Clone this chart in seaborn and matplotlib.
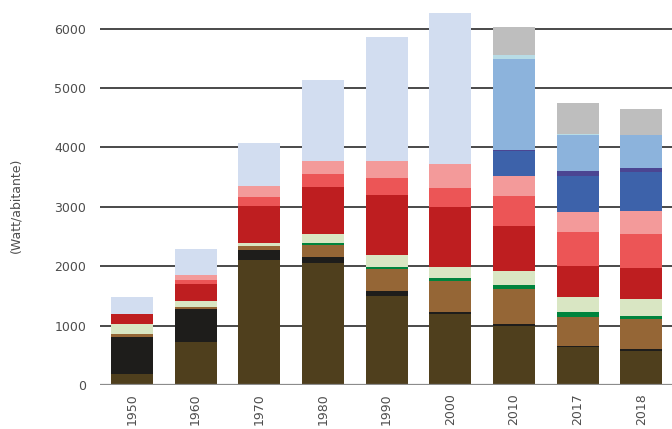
#!/usr/bin/env python3
"""Stacked bars: energy use per inhabitant (Watt/abitante), 1950-2018."""

import matplotlib
import numpy as np
import pandas as pd
import seaborn as sns

matplotlib.use("Agg")
import matplotlib.pyplot as plt

YEARS = ["1950", "1960", "1970", "1980", "1990", "2000", "2010", "2017", "2018"]

# segment heights, bottom to top
brown = [185, 724, 2104, 2054, 1498, 1195, 993, 640, 572]
black = [623, 555, 169, 101, 84, 34, 34, 17, 34]
mid_brown = [51, 34, 67, 202, 371, 522, 589, 488, 505]
green = [0, 0, 0, 34, 34, 50, 68, 84, 51]
pale_green = [168, 101, 51, 151, 202, 186, 235, 252, 286]
dark_red = [168, 286, 622, 791, 1010, 1010, 758, 522, 522]
red = [0, 68, 152, 219, 286, 319, 505, 573, 572]
pink = [0, 84, 185, 219, 286, 405, 337, 336, 387]
dark_blue = [0, 0, 0, 0, 0, 0, 420, 607, 657]
purple = [0, 0, 0, 0, 0, 0, 17, 84, 67]
light_blue = [0, 0, 0, 0, 0, 0, 1532, 606, 556]
cyan = [0, 0, 0, 0, 0, 0, 68, 17, 0]
grey = [0, 0, 0, 0, 0, 0, 471, 521, 437]
pale_blue = [286, 438, 724, 1364, 2088, 2542, 0, 0, 0]

SERIES = [
    (brown, "#4f3f1d"),
    (black, "#1e1d1b"),
    (mid_brown, "#956636"),
    (green, "#00843d"),
    (pale_green, "#d9e6c3"),
    (dark_red, "#be1e20"),
    (red, "#ec5556"),
    (pink, "#f39a9a"),
    (dark_blue, "#3d62aa"),
    (purple, "#4b4592"),
    (light_blue, "#8cb3dc"),
    (cyan, "#b8dce6"),
    (grey, "#bebebe"),
    (pale_blue, "#d2ddf0"),
]

TEXT_COLOR = "#4d4d4d"


def main() -> None:
    sns.set_theme(style="white")
    plt.rcParams["font.family"] = ["DejaVu Sans"]

    fig = plt.figure(figsize=(6.72, 4.29), dpi=100)
    ax = fig.add_axes([0.1488, 0.1026, 0.853, 0.8974])

    bottom = np.zeros(len(YEARS))
    for values, color in SERIES:
        vals = np.asarray(values, dtype=float)
        df = pd.DataFrame({"year": YEARS, "value": vals})
        sns.barplot(
            data=df,
            x="year",
            y="value",
            bottom=bottom,
            color=color,
            width=0.66,
            saturation=1,
            linewidth=0,
            errorbar=None,
            ax=ax,
            zorder=3,
        )
        bottom += vals

    ax.set_xlim(-0.5, 8.5)
    ax.set_ylim(0, 6480)
    ax.set_yticks([0, 1000, 2000, 3000, 4000, 5000, 6000])
    ax.yaxis.grid(True, color="#3a3a3a", linewidth=1.3, zorder=1)
    ax.set_axisbelow(True)
    ax.axhline(0, color="#8c8c8c", linewidth=1.6, zorder=4)

    for side in ["top", "right", "left", "bottom"]:
        ax.spines[side].set_visible(False)

    ax.tick_params(axis="y", length=0, pad=10, labelsize=9, labelcolor=TEXT_COLOR)
    ax.tick_params(axis="x", length=0, pad=6, labelsize=9, labelcolor=TEXT_COLOR)
    plt.setp(ax.get_xticklabels(), rotation=90)

    ax.set_xlabel("")
    ax.set_ylabel("")
    fig.text(0.024, 0.522, "(Watt/abitante)", rotation=90, ha="center", va="center",
             fontsize=9, color=TEXT_COLOR)

    fig.savefig("out.png", dpi=100)
    plt.close(fig)


if __name__ == "__main__":
    main()
